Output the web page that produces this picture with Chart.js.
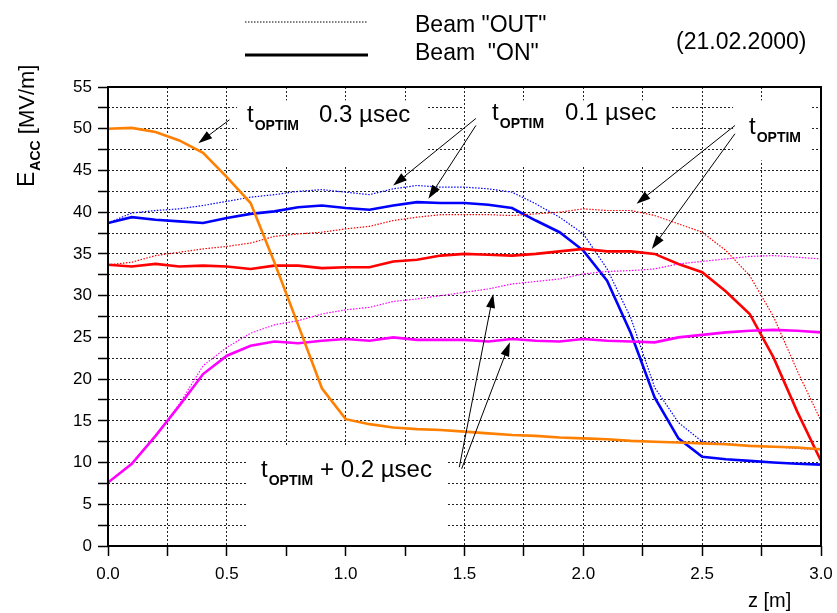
<!DOCTYPE html>
<html>
<head>
<meta charset="utf-8">
<script src="https://cdn.jsdelivr.net/npm/chart.js@4.4.0/dist/chart.umd.min.js"></script>
<style>
  html, body { margin: 0; padding: 0; background: #fff; }
  #wrap { width: 837px; height: 613px; }
</style>
</head>
<body>
<div id="wrap"><canvas id="chart" width="837" height="613"></canvas></div>
<script>
// z positions along the structure [m]
const zPos = [0.0, 0.1, 0.2, 0.3, 0.4, 0.5, 0.6, 0.7, 0.8, 0.9, 1.0,
              1.1, 1.2, 1.3, 1.4, 1.5, 1.6, 1.7, 1.8, 1.9, 2.0,
              2.1, 2.2, 2.3, 2.4, 2.5, 2.6, 2.7, 2.8, 2.9, 3.0];

// E_acc [MV/m]
const orangeOn = [50.0, 50.1, 49.6, 48.6, 47.1, 44.2, 41.1, 34.0, 26.5, 18.9, 15.2,
                  14.6, 14.2, 14.0, 13.9, 13.7, 13.5, 13.3, 13.2, 13.0, 12.9,
                  12.8, 12.6, 12.5, 12.4, 12.3, 12.2, 12.0, 11.9, 11.8, 11.6];
const blueOn   = [38.7, 39.4, 39.1, 38.9, 38.7, 39.3, 39.8, 40.1, 40.6, 40.8, 40.5,
                  40.3, 40.8, 41.2, 41.1, 41.1, 40.9, 40.5, 39.0, 37.6, 35.4,
                  31.8, 25.5, 17.8, 12.9, 10.7, 10.4, 10.2, 10.0, 9.85, 9.75];
const blueOut  = [38.7, 39.9, 40.2, 40.4, 40.8, 41.3, 41.8, 42.1, 42.5, 42.7, 42.4,
                  42.1, 42.8, 43.2, 43.0, 43.0, 42.8, 42.4, 41.0, 39.4, 37.4,
                  33.2, 27.3, 19.0, 14.8, 12.5, 12.3, 12.0, 11.9, 11.7, 11.55];
const redOn    = [33.7, 33.5, 33.8, 33.5, 33.6, 33.5, 33.2, 33.6, 33.6, 33.3, 33.4,
                  33.4, 34.1, 34.3, 34.8, 35.0, 34.9, 34.8, 35.0, 35.3, 35.6,
                  35.3, 35.3, 35.0, 33.8, 32.8, 30.5, 27.8, 22.6, 16.1, 10.2];
const redOut   = [33.7, 34.0, 34.8, 35.2, 35.6, 35.9, 36.3, 37.1, 37.4, 37.6, 38.0,
                  38.3, 39.0, 39.4, 39.7, 39.7, 39.7, 39.6, 39.8, 40.0, 40.4,
                  40.2, 40.2, 39.6, 38.6, 37.6, 35.4, 32.4, 27.5, 21.0, 15.0];
const magOn    = [7.6, 9.85, 13.2, 16.8, 20.6, 22.8, 24.0, 24.5, 24.3, 24.6, 24.8,
                  24.6, 25.0, 24.7, 24.7, 24.7, 24.5, 24.8, 24.6, 24.5, 24.8,
                  24.6, 24.5, 24.4, 25.0, 25.3, 25.6, 25.8, 25.9, 25.8, 25.6];
const magOut   = [7.6, 9.85, 13.2, 17.0, 21.6, 23.8, 25.5, 26.5, 27.0, 27.8, 28.3,
                  28.6, 29.3, 29.6, 30.0, 30.4, 30.8, 31.4, 31.7, 32.0, 32.6,
                  32.9, 33.0, 33.2, 33.8, 34.1, 34.4, 34.7, 34.8, 34.6, 34.4];

// annotations in data units (z, E)
const notes = [
  { z: 0.585, e: 50.8, tail: '0.3 \u00b5sec', tailZ: 0.888 },
  { z: 1.616, e: 51.0, tail: '0.1 \u00b5sec', tailZ: 1.923 },
  { z: 2.697, e: 49.4, tail: '', tailZ: null },
  { z: 0.644, e: 8.25, tail: '+ 0.2 \u00b5sec', tailZ: 0.892 }
];
const arrows = [
  [0.511, 51.07, 0.380, 48.27],
  [1.548, 51.23, 1.200, 43.2],
  [1.548, 50.39, 1.348, 41.6],
  [2.638, 50.39, 2.224, 41.0],
  [2.638, 49.4, 2.288, 35.6],
  [1.478, 9.44, 1.621, 30.2],
  [1.488, 9.25, 1.691, 24.4]
];
// white patches behind the labels (z1, e1, z2, e2)
const clearBoxes = [
  [0.543, 53.4, 1.346, 45.5],
  [1.502, 53.4, 2.373, 45.5],
  [2.63, 53.4, 2.962, 46.2],
  [0.585, 12.0, 1.426, 0]
];

const FONT = '"Liberation Sans", Arial, sans-serif';

const toPts = vals => vals.map((v, i) => ({ x: zPos[i], y: v }));
const onLine  = (label, vals, color) => ({ label, data: toPts(vals), borderColor: color, borderWidth: 2.6, pointRadius: 0, tension: 0 });
const outLine = (label, vals, color) => ({ label, data: toPts(vals), borderColor: color, borderWidth: 1.2, borderDash: [1.5, 1.5], pointRadius: 0, tension: 0 });

function tOptim(ctx, x, y, big, small) {
  ctx.font = `${big}px ${FONT}`;
  ctx.fillText('t', x, y);
  const w = ctx.measureText('t').width;
  ctx.font = `bold ${small}px ${FONT}`;
  ctx.fillText('OPTIM', x + w + 1, y + 8);
}

function arrow(ctx, x1, y1, x2, y2) {
  const a = Math.atan2(y2 - y1, x2 - x1);
  const len = 14, w = 4.5;
  const c = Math.cos(a), s = Math.sin(a);
  ctx.beginPath();
  ctx.moveTo(x1, y1);
  ctx.lineTo(x2 - c * len * 0.8, y2 - s * len * 0.8);
  ctx.stroke();
  ctx.beginPath();
  ctx.moveTo(x2, y2);
  ctx.lineTo(x2 - len * c + w * s, y2 - len * s - w * c);
  ctx.lineTo(x2 - len * c - w * s, y2 - len * s + w * c);
  ctx.closePath();
  ctx.fill();
}

const overlay = {
  id: 'overlay',
  beforeDatasetsDraw(chart) {
    const { ctx, scales: { x, y } } = chart;
    ctx.save();
    ctx.fillStyle = '#fff';
    clearBoxes.forEach(([z1, e1, z2, e2]) => {
      const px1 = x.getPixelForValue(z1), py1 = y.getPixelForValue(e1);
      const px2 = x.getPixelForValue(z2), py2 = y.getPixelForValue(e2);
      ctx.fillRect(px1, py1, px2 - px1, py2 - py1);
    });
    ctx.restore();
  },
  afterDraw(chart) {
    const { ctx, chartArea: a, scales: { x, y } } = chart;
    ctx.save();
    // frame
    ctx.strokeStyle = '#000';
    ctx.lineWidth = 2;
    ctx.strokeRect(a.left, a.top, a.right - a.left, a.bottom - a.top);

    // legend
    ctx.lineWidth = 1.2;
    ctx.setLineDash([1.5, 1.5]);
    ctx.beginPath(); ctx.moveTo(245, 22); ctx.lineTo(367, 22); ctx.stroke();
    ctx.setLineDash([]);
    ctx.lineWidth = 3;
    ctx.beginPath(); ctx.moveTo(245, 55); ctx.lineTo(368, 55); ctx.stroke();
    ctx.fillStyle = '#000';
    ctx.font = `23px ${FONT}`;
    ctx.textBaseline = 'alphabetic';
    ctx.fillText('Beam "OUT"', 415, 32);
    ctx.fillText('Beam  "ON"', 415, 60);
    ctx.fillText('(21.02.2000)', 676, 49);

    // axis titles
    ctx.font = `20px ${FONT}`;
    ctx.fillText('z [m]', 748, 607);
    ctx.save();
    ctx.translate(34, 187);
    ctx.rotate(-Math.PI / 2);
    ctx.font = `23px ${FONT}`;
    ctx.fillText('E', 0, 0);
    let off = ctx.measureText('E').width;
    ctx.font = `bold 14px ${FONT}`;
    ctx.fillText('ACC', off + 1, 6);
    off += 1 + ctx.measureText('ACC').width;
    ctx.font = `22px ${FONT}`;
    ctx.fillText(' [MV/m]', off, 0);
    ctx.restore();

    // labels
    notes.forEach(n => {
      const px = x.getPixelForValue(n.z), py = y.getPixelForValue(n.e);
      tOptim(ctx, px, py, 24, 14);
      if (n.tail) {
        ctx.font = `24px ${FONT}`;
        ctx.fillText(n.tail, x.getPixelForValue(n.tailZ), py);
      }
    });

    // arrows
    ctx.lineWidth = 1;
    arrows.forEach(([z1, e1, z2, e2]) => {
      arrow(ctx, x.getPixelForValue(z1), y.getPixelForValue(e1),
                 x.getPixelForValue(z2), y.getPixelForValue(e2));
    });
    ctx.restore();
  }
};

new Chart(document.getElementById('chart'), {
  type: 'line',
  data: {
    datasets: [
      onLine('t optim + 0.3 ON', orangeOn, '#ff8000'),
      outLine('t optim + 0.2 OUT', magOut, '#ff00ff'),
      onLine('t optim + 0.2 ON', magOn, '#ff00ff'),
      outLine('t optim OUT', redOut, '#ff0000'),
      onLine('t optim ON', redOn, '#ff0000'),
      outLine('t optim - 0.1 OUT', blueOut, '#0000ff'),
      onLine('t optim - 0.1 ON', blueOn, '#0000ff')
    ]
  },
  options: {
    responsive: false,
    animation: false,
    layout: { padding: { top: 87, right: 16, left: 0, bottom: 0 } },
    plugins: { legend: { display: false }, tooltip: { enabled: false } },
    scales: {
      x: {
        type: 'linear', min: 0, max: 3,
        afterFit: s => { s.height = 67; s.paddingLeft = 0; s.paddingRight = 0; },
        ticks: {
          stepSize: 0.25, autoSkip: false, maxRotation: 0, padding: 8,
          color: '#000', font: { family: FONT, size: 17 },
          callback: v => (Math.abs(v * 2 - Math.round(v * 2)) < 1e-6 ? v.toFixed(1) : '')
        },
        grid: { color: '#222', lineWidth: 1, tickLength: 10, tickColor: '#000', tickWidth: 1.5 },
        border: { display: false, dash: [2, 2] }
      },
      y: {
        min: 0, max: 55,
        afterFit: s => { s.width = 108; s.paddingTop = 0; s.paddingBottom = 0; },
        ticks: {
          stepSize: 2.5, autoSkip: false, padding: 6,
          color: '#000', font: { family: FONT, size: 17 },
          callback: v => (v % 5 === 0 ? String(v) : '')
        },
        grid: { color: '#222', lineWidth: 1, tickLength: 10, tickColor: '#000', tickWidth: 1.5 },
        border: { display: false, dash: [2, 2] }
      }
    }
  },
  plugins: [overlay]
});
</script>
</body>
</html>
